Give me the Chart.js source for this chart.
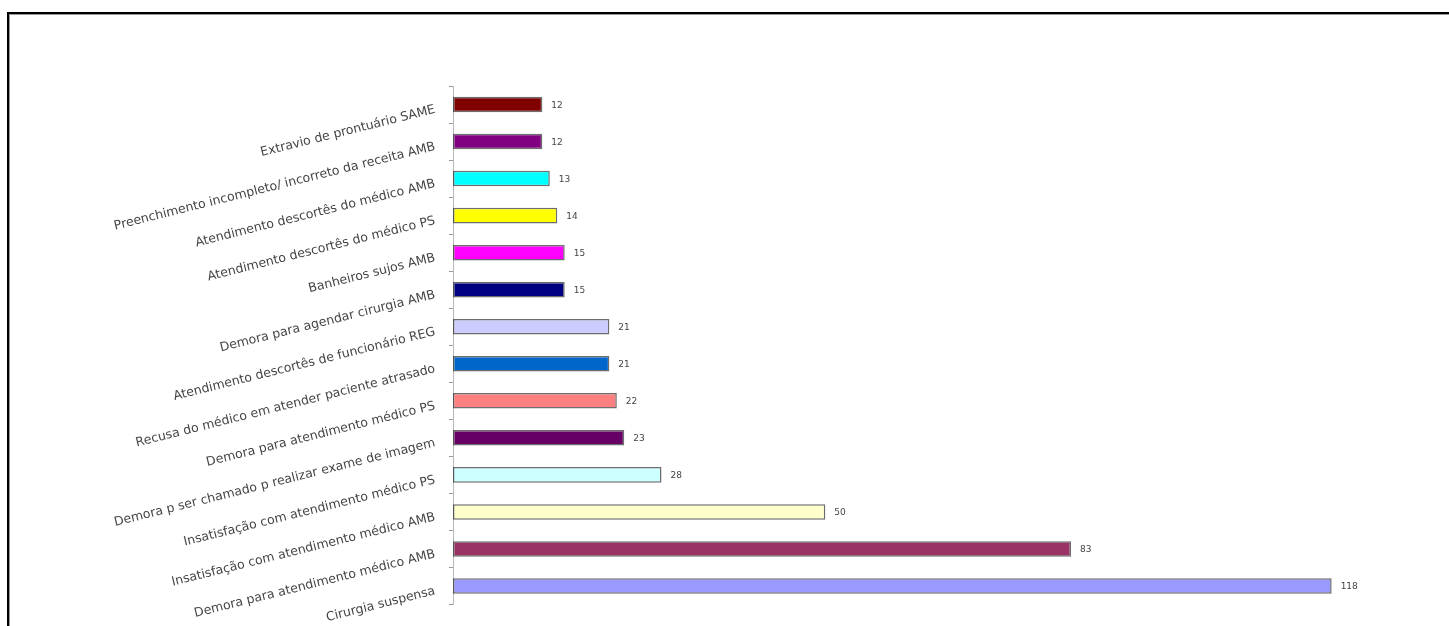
<!DOCTYPE html>
<html>
<head>
<meta charset="utf-8">
<script src="https://cdn.jsdelivr.net/npm/chart.js@4/dist/chart.umd.min.js"></script>
<style>
  html, body { margin: 0; padding: 0; background: #fff; overflow: hidden; }
  #c { display: block; }
</style>
</head>
<body>
<canvas id="c" width="1449" height="626"></canvas>
<script>
const categories = [
  "Extravio de prontuário SAME",
  "Preenchimento incompleto/ incorreto da receita AMB",
  "Atendimento descortês do médico AMB",
  "Atendimento descortês do médico PS",
  "Banheiros sujos AMB",
  "Demora para agendar cirurgia AMB",
  "Atendimento descortês de funcionário REG",
  "Recusa do médico em atender paciente atrasado",
  "Demora para atendimento médico PS",
  "Demora p ser chamado p realizar exame de imagem",
  "Insatisfação com atendimento médico PS",
  "Insatisfação com atendimento médico AMB",
  "Demora para atendimento médico AMB",
  "Cirurgia suspensa"
];
const values = [12, 12, 13, 14, 15, 15, 21, 21, 22, 23, 28, 50, 83, 118];
const barColors = [
  "#800000", "#800080", "#00FFFF", "#FFFF00", "#FF00FF", "#000080", "#CCCCFF",
  "#0066CC", "#FF8080", "#660066", "#CCFFFF", "#FFFFCC", "#993366", "#9999FF"
];

const frame = {
  id: 'frame',
  beforeDraw(chart) {
    const ctx = chart.ctx;
    ctx.save();
    ctx.fillStyle = '#fff';
    ctx.fillRect(0, 0, chart.width, chart.height);
    ctx.fillStyle = '#000';
    ctx.fillRect(7, 12, chart.width - 7, 2);
    ctx.fillRect(7, 12, 2, chart.height - 12);
    ctx.fillStyle = '#999';
    ctx.fillRect(9, 14, chart.width - 9, 1);
    ctx.fillRect(9, 14, 1, chart.height - 14);
    ctx.restore();
  }
};

const valueLabels = {
  id: 'valueLabels',
  afterDatasetsDraw(chart) {
    const ctx = chart.ctx;
    const meta = chart.getDatasetMeta(0);
    ctx.save();
    ctx.font = '9px "DejaVu Sans", Verdana, sans-serif';
    ctx.fillStyle = '#444';
    ctx.textAlign = 'left';
    ctx.textBaseline = 'middle';
    meta.data.forEach((bar, i) => {
      ctx.fillText(String(values[i]), bar.x + 9, bar.y + 1);
    });
    ctx.restore();
  }
};

new Chart(document.getElementById('c'), {
  type: 'bar',
  data: {
    labels: categories,
    datasets: [{
      data: values,
      backgroundColor: barColors,
      borderColor: 'rgba(30,30,30,0.65)',
      borderWidth: 1.5,
      borderSkipped: false,
      barPercentage: 0.42,
      categoryPercentage: 1.0
    }]
  },
  options: {
    indexAxis: 'y',
    responsive: false,
    animation: false,
    events: [],
    layout: { padding: { top: 86, bottom: 20, left: 0, right: 28 } },
    plugins: { legend: { display: false }, tooltip: { enabled: false } },
    scales: {
      x: { display: false, min: 0, max: 130 },
      y: {
        afterFit(scale) { scale.width = 453; },
        border: { display: true, color: '#b8b8b8', width: 1 },
        grid: { display: true, drawOnChartArea: false, drawTicks: true, tickLength: 4, color: '#9a9a9a', offset: true },
        ticks: {
          minRotation: 14, maxRotation: 14,
          padding: 14,
          labelOffset: 5,
          autoSkip: false,
          color: '#444',
          font: { family: '"DejaVu Sans", Verdana, sans-serif', size: 12.5 }
        }
      }
    }
  },
  plugins: [frame, valueLabels]
});
</script>
</body>
</html>
